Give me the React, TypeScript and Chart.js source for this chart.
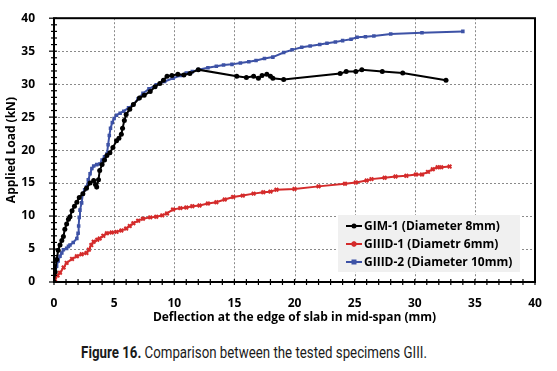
import React, { useEffect, useRef } from "react";
import { Chart, registerables } from "chart.js";

Chart.register(...registerables);

// Deflection (mm), Load (kN)
const gim1: [number, number][] = [
  [0, 0], [0.1, 1.5], [0.22, 3.4], [0.35, 4.8], [0.5, 5.6], [0.65, 6.3], [0.78, 6.9], [0.9, 8.0],
  [1.05, 8.8], [1.2, 9.5], [1.33, 9.9], [1.5, 10.8], [1.7, 11.5], [1.9, 12.1], [2.1, 12.8],
  [2.4, 13.4], [2.7, 14.2], [3.0, 15.0], [3.3, 15.4], [3.45, 14.8], [3.55, 14.4], [3.7, 15.5],
  [3.8, 16.9], [4.0, 17.8], [4.2, 18.5], [4.4, 19.2], [4.65, 19.6], [4.9, 20.4], [5.2, 21.4],
  [5.4, 21.8], [5.6, 22.4], [5.7, 23.3], [5.85, 24.5], [6.0, 25.4], [6.3, 26.2], [6.6, 26.9],
  [7.1, 27.9], [7.5, 28.3], [8.0, 28.9], [8.4, 29.6], [8.8, 30.1], [9.1, 30.6], [9.4, 31.2],
  [9.8, 31.3], [10.3, 31.5], [10.8, 31.4], [11.3, 31.6], [12.0, 32.2], [15.2, 31.2], [16.0, 31.0],
  [16.6, 31.2], [17.0, 30.9], [17.3, 31.3], [17.7, 31.5], [18.0, 31.2], [18.2, 30.9], [19.1, 30.7],
  [23.8, 31.6], [24.3, 31.9], [25.1, 31.9], [25.6, 32.2], [27.3, 31.9], [29.0, 31.7], [32.6, 30.6],
];

const giiid1: [number, number][] = [
  [0, 0], [0.08, 0.4], [0.3, 1.0], [0.5, 1.4], [0.8, 2.2], [1.05, 2.9], [1.5, 3.5], [1.9, 3.9],
  [2.3, 4.2], [2.7, 4.4], [2.9, 4.9], [3.1, 5.6], [3.3, 6.1], [3.6, 6.4], [3.8, 6.6], [4.1, 7.0],
  [4.4, 7.4], [4.8, 7.5], [5.2, 7.6], [5.6, 7.8], [6.0, 8.1], [6.3, 8.5], [6.6, 8.9], [7.0, 9.3],
  [7.4, 9.6], [8.0, 9.8], [8.5, 9.9], [9.0, 10.1], [9.4, 10.4], [9.9, 11.0], [10.5, 11.2],
  [11.0, 11.3], [11.5, 11.5], [12.1, 11.6], [12.8, 11.9], [13.5, 12.1], [14.2, 12.5], [14.9, 12.9],
  [15.7, 13.1], [16.6, 13.4], [17.4, 13.6], [18.0, 13.7], [18.5, 14.0], [20.0, 14.1], [22.0, 14.5],
  [24.2, 14.9], [25.1, 15.1], [26.0, 15.4], [26.4, 15.6], [27.5, 15.8], [28.4, 16.0], [29.3, 16.1],
  [30.1, 16.3], [30.6, 16.3], [31.1, 16.7], [31.5, 17.1], [31.9, 17.4], [32.2, 17.4], [32.9, 17.5],
];

const giiid2: [number, number][] = [
  [0, 0], [0.1, 1.2], [0.22, 2.4], [0.35, 3.2], [0.5, 3.9], [0.65, 4.4], [0.78, 4.9], [1.05, 5.1],
  [1.2, 5.4], [1.33, 5.6], [1.6, 6.0], [1.9, 6.6], [2.0, 7.4], [2.05, 8.5], [2.1, 9.8], [2.16, 10.9],
  [2.3, 12.0], [2.4, 13.4], [2.55, 14.0], [2.7, 14.4], [2.85, 15.5], [3.0, 16.4], [3.15, 17.2],
  [3.3, 17.6], [3.55, 17.8], [3.8, 17.9], [4.0, 18.5], [4.2, 19.0], [4.4, 19.4], [4.5, 20.8],
  [4.6, 22.2], [4.7, 23.3], [4.85, 24.2], [5.0, 24.8], [5.2, 25.3], [5.5, 25.6], [5.8, 25.9],
  [6.2, 26.4], [6.6, 26.9], [7.0, 27.8], [7.4, 28.6], [7.9, 29.3], [8.5, 29.9], [9.2, 30.4],
  [9.9, 30.9], [10.5, 31.3], [11.0, 31.7], [11.5, 31.9], [12.0, 32.2], [12.8, 32.5], [13.5, 32.7],
  [14.1, 32.9], [14.8, 33.0], [15.5, 33.2], [16.2, 33.4], [16.8, 33.6], [17.5, 33.9], [18.2, 34.1],
  [19.1, 34.8], [19.8, 35.2], [20.6, 35.6], [21.3, 35.8], [22.1, 36.0], [22.7, 36.2], [23.4, 36.4],
  [24.0, 36.6], [24.7, 36.8], [25.2, 37.1], [25.9, 37.2], [26.6, 37.3], [28.0, 37.6], [30.6, 37.8],
  [34.0, 38.0],
];

const seriesLabels = [
  "GIM-1 (Diameter 8mm)",
  "GIIID-1 (Diametr 6mm)",
  "GIIID-2 (Diameter 10mm)",
];
const seriesColors = ["#000000", "#d42b2b", "#3d52a6"];
const seriesMarkers = ["circle", "star", "rect"];

const xTitle = "Deflection at the edge of slab in mid-span (mm)";
const yTitle = "Applied Load (kN)";
const caption = "Comparison between the tested specimens GIII.";
const captionLead = "Figure 16.";

const tickFont = { family: "'Open Sans', sans-serif", size: 12, weight: "bold" as const };

function drawMarker(ctx: CanvasRenderingContext2D, style: string, x: number, y: number, color: string) {
  ctx.save();
  ctx.fillStyle = color;
  ctx.strokeStyle = color;
  ctx.lineWidth = 1.5;
  if (style === "circle") {
    ctx.beginPath();
    ctx.arc(x, y, 2.5, 0, Math.PI * 2);
    ctx.fill();
  } else if (style === "rect") {
    ctx.fillRect(x - 2.5, y - 2.5, 5, 5);
  } else {
    ctx.beginPath();
    ctx.moveTo(x - 3, y); ctx.lineTo(x + 3, y);
    ctx.moveTo(x, y - 3); ctx.lineTo(x, y + 3);
    ctx.moveTo(x - 2, y - 2); ctx.lineTo(x + 2, y + 2);
    ctx.moveTo(x - 2, y + 2); ctx.lineTo(x + 2, y - 2);
    ctx.stroke();
  }
  ctx.restore();
}

const framePlugin = {
  id: "frame",
  beforeDatasetsDraw(chart: any) {
    const { ctx, chartArea: a, scales } = chart;
    ctx.save();
    ctx.strokeStyle = "#8a8a8a";
    ctx.lineWidth = 1;
    ctx.setLineDash([2, 2]);
    for (let v = 5; v < 40; v += 5) {
      const px = Math.round(scales.x.getPixelForValue(v)) + 0.5;
      ctx.beginPath();
      ctx.moveTo(px, a.top);
      ctx.lineTo(px, a.bottom);
      ctx.stroke();
      const py = Math.round(scales.y.getPixelForValue(v)) + 0.5;
      ctx.beginPath();
      ctx.moveTo(a.left, py);
      ctx.lineTo(a.right, py);
      ctx.stroke();
    }
    ctx.restore();
  },
  afterDatasetsDraw(chart: any) {
    const { ctx, chartArea: a, scales } = chart;
    ctx.save();
    ctx.strokeStyle = "#000";
    ctx.lineWidth = 1.2;
    for (let v = 0; v <= 40; v += 1) {
      const major = v % 5 === 0;
      const px = scales.x.getPixelForValue(v);
      ctx.beginPath();
      ctx.moveTo(px, a.bottom - 3);
      ctx.lineTo(px, a.bottom + 3);
      ctx.stroke();
      const py = scales.y.getPixelForValue(v);
      ctx.beginPath();
      ctx.moveTo(a.left - (major ? 5 : 3), py);
      ctx.lineTo(a.left + 3, py);
      ctx.stroke();
    }
    ctx.lineWidth = 2;
    ctx.strokeRect(a.left, a.top, a.right - a.left, a.bottom - a.top);
    ctx.restore();
  },
  afterDraw(chart: any) {
    const { ctx } = chart;
    ctx.save();
    ctx.fillStyle = "#f0f0f0";
    ctx.fillRect(338, 215, 182, 57);
    ctx.font = "bold 12px 'Open Sans', sans-serif";
    ctx.textBaseline = "middle";
    ctx.textAlign = "left";
    seriesLabels.forEach((lab, i) => {
      const y = 226 + i * 18;
      ctx.strokeStyle = seriesColors[i];
      ctx.lineWidth = 2;
      ctx.beginPath();
      ctx.moveTo(346, y);
      ctx.lineTo(362, y);
      ctx.stroke();
      drawMarker(ctx, seriesMarkers[i], 354, y, seriesColors[i]);
      ctx.fillStyle = "#000";
      ctx.fillText(lab, 364, y + 0.5);
    });
    ctx.restore();
  },
};

export default function App() {
  const ref = useRef<HTMLCanvasElement>(null);
  useEffect(() => {
    if (!ref.current) return;
    const all = [gim1, giiid1, giiid2];
    const chart = new Chart(ref.current, {
      type: "line",
      data: {
        datasets: all.map((s, i) => ({
          label: seriesLabels[i],
          data: s.map(([x, y]) => ({ x, y })),
          borderColor: seriesColors[i],
          backgroundColor: seriesColors[i],
          borderWidth: 2,
          pointStyle: seriesMarkers[i] === "star" ? "crossRot" : (seriesMarkers[i] as any),
          pointRadius: 2.5,
          pointBorderWidth: seriesMarkers[i] === "star" ? 2 : 0,
          pointBorderColor: seriesColors[i],
          pointBackgroundColor: seriesColors[i],
          tension: 0,
          fill: false,
        })),
      },
      options: {
        animation: false,
        responsive: false,
        maintainAspectRatio: false,
        layout: { padding: { top: 16, right: 22, left: 0, bottom: 0 } },
        plugins: { legend: { display: false }, tooltip: { enabled: false } },
        scales: {
          x: {
            type: "linear",
            min: 0,
            max: 40,
            ticks: { stepSize: 5, color: "#000", font: tickFont, padding: 6 },
            grid: { display: false },
            border: { display: false },
            title: {
              display: true,
              text: xTitle,
              color: "#000",
              font: { family: "'Open Sans', sans-serif", size: 12, weight: "bold" },
              padding: { top: 0, bottom: 5 },
            },
            afterFit: (s: any) => { s.height = 48; },
          },
          y: {
            type: "linear",
            min: 0,
            max: 40,
            ticks: { stepSize: 5, color: "#000", font: tickFont, padding: 11 },
            grid: { display: false },
            border: { display: false },
            title: {
              display: true,
              text: yTitle,
              color: "#000",
              font: { family: "'Open Sans', sans-serif", size: 12, weight: "bold" },
              padding: { top: 4, bottom: 0 },
            },
            afterFit: (s: any) => { s.width = 54; },
          },
        },
      },
      plugins: [framePlugin],
    });
    return () => chart.destroy();
  }, []);

  return (
    <div style={{ position: "absolute", left: 0, top: 0, width: 557, height: 371, background: "#fff" }}>
      <canvas ref={ref} width={557} height={330} style={{ position: "absolute", left: 0, top: 0 }} />
      <div
        style={{
          position: "absolute",
          left: 254,
          top: 343,
          fontFamily: "Roboto, sans-serif",
          fontSize: 16,
          color: "#1a1a1a",
          whiteSpace: "nowrap",
          transform: "translateX(-50%) scaleX(0.83)",
        }}
      >
        <b>{captionLead}</b> {caption}
      </div>
    </div>
  );
}
